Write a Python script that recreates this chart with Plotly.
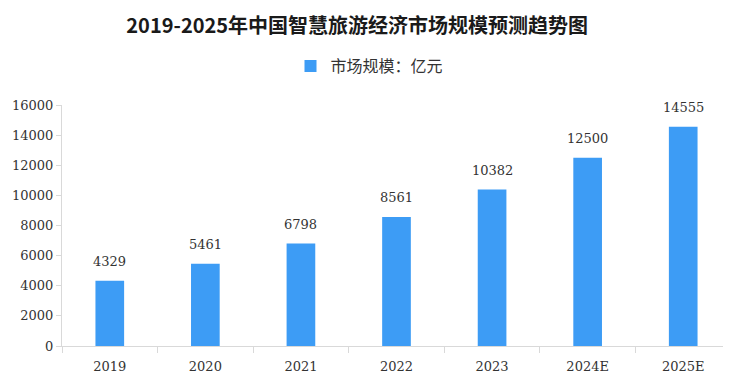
import plotly.graph_objects as go

categories = ["2019", "2020", "2021", "2022", "2023", "2024E", "2025E"]
values = [4329, 5461, 6798, 8561, 10382, 12500, 14555]
y_ticks = [0, 2000, 4000, 6000, 8000, 10000, 12000, 14000, 16000]
series_name = "市场规模：亿元"
title_text = "2019-2025年中国智慧旅游经济市场规模预测趋势图"

BAR = "#3d9cf5"
NUM_FONT = "DejaVu Serif"
CJK = "Noto Sans CJK SC"

# the page body adds an 8px margin, so the figure is sized to fill the rest
W, H = 723, 378

fig = go.Figure()
fig.add_trace(go.Bar(
    x=categories, y=values, name=series_name,
    marker=dict(color=BAR, line=dict(width=0)),
    width=0.3,
    showlegend=True,
))

for i, v in enumerate(values):
    fig.add_annotation(
        x=i, y=v, xref="x", yref="y", text=str(v), showarrow=False,
        yanchor="bottom", yshift=10,
        font=dict(family=NUM_FONT, size=13, color="#333333"),
    )

fig.update_layout(
    width=W, height=H,
    margin=dict(l=54, r=0, t=97, b=40, autoexpand=False),
    paper_bgcolor="white", plot_bgcolor="white",
    title=dict(text=title_text, x=0.483, xref="container", xanchor="center",
               y=1 - 18 / H, yref="container", yanchor="middle",
               font=dict(family=CJK, size=20, color="#1a1a1a", weight="bold")),
    legend=dict(orientation="h", xref="container", x=0.5, xanchor="center",
                yref="container", y=1 - 58 / H, yanchor="middle",
                font=dict(family=CJK, size=16, color="#333333"),
                itemwidth=30),
    xaxis=dict(type="category", categoryorder="array", categoryarray=categories,
               range=[-0.5, len(categories) - 0.5], automargin=False,
               showline=True, linecolor="#d9d9d9", linewidth=1,
               ticks="outside", tickson="boundaries", ticklen=6, tickcolor="#d9d9d9",
               ticklabelstandoff=8,
               tickfont=dict(family=NUM_FONT, size=13, color="#333333"),
               showgrid=False),
    yaxis=dict(range=[0, 16000], tickvals=y_ticks, tickformat="d", showline=True,
               automargin=False,
               linecolor="#d9d9d9", linewidth=1, ticks="outside", ticklen=5,
               tickcolor="#d9d9d9",
               tickfont=dict(family=NUM_FONT, size=13, color="#333333"),
               showgrid=False, zeroline=False),
)

fig.write_html("out.html")
